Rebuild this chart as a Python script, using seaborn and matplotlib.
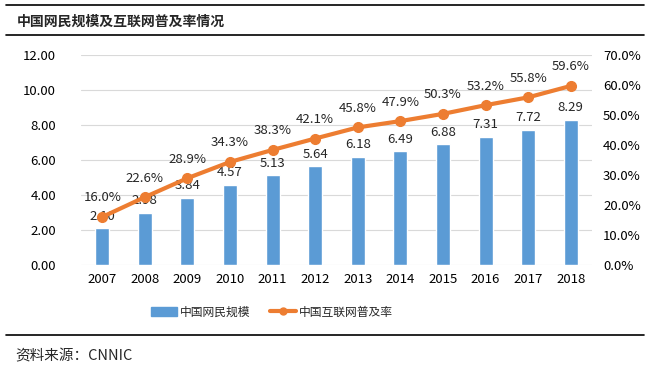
import matplotlib
matplotlib.use('Agg')
import matplotlib.pyplot as plt
import seaborn as sns
import pandas as pd
from matplotlib.ticker import FuncFormatter

# 数据
years = ['2007', '2008', '2009', '2010', '2011', '2012', '2013', '2014', '2015', '2016', '2017', '2018']
users = [2.10, 2.98, 3.84, 4.57, 5.13, 5.64, 6.18, 6.49, 6.88, 7.31, 7.72, 8.29]
rate = [16.0, 22.6, 28.9, 34.3, 38.3, 42.1, 45.8, 47.9, 50.3, 53.2, 55.8, 59.6]

df = pd.DataFrame({'year': years, 'users': users, 'rate': rate})

sns.set_theme(style='white')
plt.rcParams['font.family'] = ['Noto Sans CJK SC', 'DejaVu Sans']

bar_color = '#5B9BD5'
line_color = '#ED7D31'

fig = plt.figure(figsize=(6.5, 3.66), dpi=100)
ax = fig.add_axes([81 / 650, 1 - 265 / 366, 511 / 650, 210.3 / 366])
ax2 = ax.twinx()

sns.barplot(data=df, x='year', y='users', color=bar_color, width=0.33,
            ax=ax, saturation=1, zorder=2)
ax2.plot(range(len(years)), df['rate'], color=line_color, lw=3,
         marker='o', markersize=7, zorder=3)

ax.set_ylim(0, 12)
ax.set_yticks([0, 2, 4, 6, 8, 10, 12])
ax.yaxis.set_major_formatter(FuncFormatter(lambda v, p: f'{v:.2f}'))
ax2.set_ylim(0, 70)
ax2.set_yticks(range(0, 71, 10))
ax2.yaxis.set_major_formatter(FuncFormatter(lambda v, p: f'{v:.1f}%'))
ax.set_xlim(-0.5, len(years) - 0.5)

ax.grid(axis='y', color='#D9D9D9', lw=0.8, zorder=0)
ax.set_axisbelow(True)
for a in (ax, ax2):
    for s in a.spines.values():
        s.set_visible(False)
    a.tick_params(length=0, labelsize=9.5, colors='#000000')
ax.tick_params(axis='y', pad=18)
ax2.tick_params(axis='y', pad=8)
ax.tick_params(axis='x', pad=6)
ax.set_xlabel('')
ax.set_ylabel('')

# 数据标签
for i, v in enumerate(users):
    ax.annotate(f'{v:.2f}', (i, v), xytext=(0, 4), textcoords='offset points',
                ha='center', va='bottom', fontsize=9.5)
for i, v in enumerate(rate):
    ax2.annotate(f'{v:.1f}%', (i, v), xytext=(0, 9), textcoords='offset points',
                 ha='center', va='bottom', fontsize=9.5)

# 图例
h1 = plt.Rectangle((0, 0), 1, 1, color=bar_color)
h2, = ax.plot([], [], color=line_color, lw=3, marker='o', markersize=5)
fig.legend([h1, h2], ['中国网民规模', '中国互联网普及率'], loc='center',
           bbox_to_anchor=(272 / 650, 1 - 312 / 366), ncol=2, frameon=False,
           fontsize=8.5, handlelength=2.2, columnspacing=1.6, handletextpad=0.3)

# 标题和分割线
fig.text(17 / 650, 1 - 22 / 366, '中国网民规模及互联网普及率情况', fontsize=10,
         fontweight='bold', va='center', ha='left')
for yy in (5, 35, 335):
    fig.add_artist(plt.Line2D([6 / 650, 644 / 650], [1 - yy / 366, 1 - yy / 366],
                              color='black', lw=1.2))
fig.text(15 / 650, 1 - 356 / 366, '资料来源：CNNIC', fontsize=10.5, va='center', ha='left')

fig.savefig('out.png', dpi=100)
